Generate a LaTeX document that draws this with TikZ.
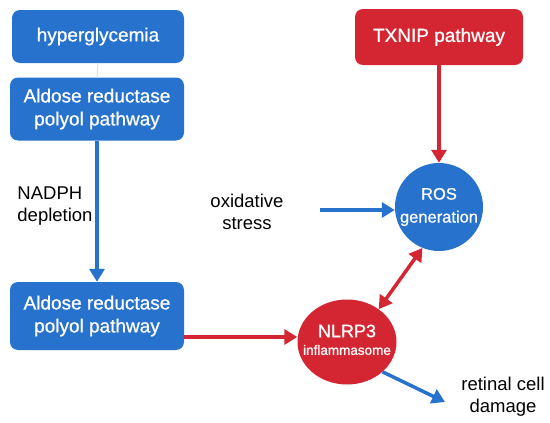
\documentclass[tikz,border=0pt]{standalone}
\usepackage{fontspec}
\setmainfont{Liberation Sans}
\newfontfamily\medfont{Liberation Sans}[FakeBold=0.9]
\usetikzlibrary{arrows.meta,shapes.geometric}
\definecolor{bblue}{RGB}{38,114,204}
\definecolor{rred}{RGB}{212,38,50}
\tikzset{
  bbox/.style={draw=none, fill=bblue, rounded corners=8pt, text=white, align=center, inner sep=0pt, font=\medfont\fontsize{19}{23}\selectfont},
  rbox/.style={bbox, fill=rred},
  lbl/.style={align=center, inner sep=0pt, text=black, font=\fontsize{18.5}{22}\selectfont},
  barrow/.style={draw=bblue, line width=3.5pt, -{Triangle[length=13pt,width=15pt]}},
  rarrow/.style={draw=rred, line width=3.5pt, -{Triangle[length=13pt,width=15pt]}},
  rdarrow/.style={draw=rred, line width=3.5pt, {Triangle[length=13pt,width=15pt]}-{Triangle[length=13pt,width=15pt]}},
}
\begin{document}
\begin{tikzpicture}[x=1pt,y=-1pt]
\useasboundingbox[fill=white] (0,0) rectangle (550,423);
% boxes
\node[bbox, minimum width=172pt, minimum height=53pt] (hyp) at (98,36.5) {hyperglycemia};
\node[bbox, minimum width=174pt, minimum height=63pt] (ar1) at (97,109) {Aldose reductase\\polyol pathway};
\node[bbox, minimum width=174pt, minimum height=68pt] (ar2) at (97,316) {Aldose reductase\\polyol pathway};
\node[rbox, minimum width=168pt, minimum height=56pt] (txnip) at (439,37) {TXNIP pathway};
% circles
\node[circle, fill=bblue, minimum size=88pt, inner sep=0pt, text=white, align=center, font=\medfont\fontsize{16.5}{23}\selectfont] (ros) at (439,207) {ROS\\generation};
\node[ellipse, fill=rred, minimum width=99pt, minimum height=85pt, inner sep=0pt] (nlrp) at (347,342) {};
\node[text=white, inner sep=0pt, font=\medfont\fontsize{18}{18}\selectfont] (nlrpa) at (347,331) {NLRP3};
\node[text=white, inner sep=0pt, font=\medfont\fontsize{13.5}{14}\selectfont] (nlrpb) at (347,350) {inflammasome};
% labels
\node[lbl, align=left] (nadph) at (55,206) {NADPH\\depletion};
\node[lbl] (oxs) at (247,212) {oxidative\\stress};
\node[lbl] (dmg) at (503,397) {retinal cell\\damage};
\coordinate (oxstart) at (320,210);
\coordinate (dmgend) at (445,402);
% connectors
\draw[draw=black!12, line width=1pt] (hyp.south) -- (ar1.north);
\draw[barrow] (ar1.south) -- (ar2.north);
\draw[rarrow] ([yshift=-21pt]ar2.east) -- ([yshift=-21pt]ar2.east -| nlrp.west);
\draw[rarrow] (txnip.south) -- (ros.north);
\draw[barrow] (oxstart) -- (oxstart -| ros.west);
\draw[rdarrow] (nlrp.46) -- (ros.248);
\draw[barrow] (nlrp.320) -- (dmgend);
\end{tikzpicture}
\end{document}
